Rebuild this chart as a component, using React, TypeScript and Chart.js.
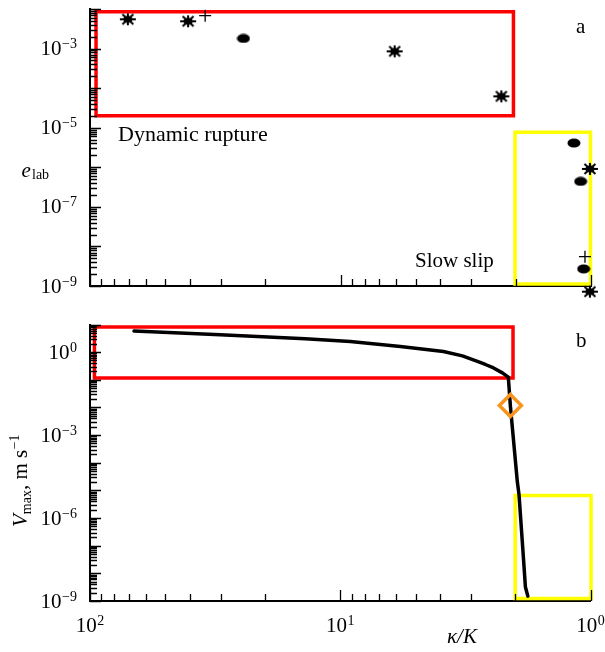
import React, { useEffect, useRef } from 'react';
import { Chart, registerables } from 'chart.js';

Chart.register(...registerables);

const SERIF = "'Liberation Serif', 'Times New Roman', Times, serif";

// ---- data (x = kappa/K) ----
const starKappa = [70.6, 40.6, 6.08, 2.28, 1.01, 1.01];
const starElab = [5.5e-3, 4.9e-3, 8.5e-4, 6.2e-5, 9.1e-7, 7.2e-10];
const plusKappa = [34.7, 1.01, 1.057];
const plusElab = [6.8e-3, 9.1e-7, 5.5e-9];
const dotKappa = [24.4, 1.17, 1.1, 1.07];
const dotElab = [1.8e-3, 4.1e-6, 4.4e-7, 2.7e-9];

const curveKappa = [66.7, 30.2, 13.8, 9.12, 5.75, 3.87, 3.25, 2.83, 2.63, 2.44, 2.25, 2.13, 2.09, 1.96, 1.93, 1.85, 1.82, 1.78];
const curveVmax = [5.77, 4.29, 3.08, 2.41, 1.6, 1.06, 0.731, 0.466, 0.358, 0.268, 0.178, 0.125, 0.0112, 2.0e-5, 6.9e-6, 2.8e-8, 3.2e-9, 1.5e-9];
const diamondKappa = [2.09];
const diamondVmax = [0.0117];

// boxes: [x1, x2], [y1, y2]
const redTopX = [94.6, 2.04];
const redTopY = [2.0e-5, 8.5e-3];
const yellowTopX = [2.01, 1.005];
const yellowTopY = [1.12e-9, 7.7e-6];
const redBotX = [96, 2.04];
const redBotY = [0.116, 8.1];
const yellowBotX = [2.0, 0.995];
const yellowBotY = [1.22e-9, 6.5e-6];

// tick labels (exponents of 10)
const xTickExps = [2, 1, 0];
const topYTickExps = [-9, -7, -5, -3];
const botYTickExps = [-9, -6, -3, 0];

const X_MIN = 1, X_MAX = 100;
const TOP_Y_MIN = 1e-9, TOP_Y_MAX = 1e-2;
const BOT_Y_MIN = 1e-9, BOT_Y_MAX = 10;

const pts = (xs: number[], ys: number[]) => xs.map((x, i) => ({ x, y: ys[i] }));
const rect = (xs: number[], ys: number[]) => [
  { x: xs[0], y: ys[0] },
  { x: xs[1], y: ys[0] },
  { x: xs[1], y: ys[1] },
  { x: xs[0], y: ys[1] },
  { x: xs[0], y: ys[0] },
];

function makeStar(): HTMLCanvasElement {
  const c = document.createElement('canvas');
  c.width = 18; c.height = 14;
  const g = c.getContext('2d')!;
  g.strokeStyle = '#000'; g.fillStyle = '#000'; g.lineWidth = 2;
  const cx = 9, cy = 7;
  g.beginPath();
  g.moveTo(1, cy); g.lineTo(17, cy);
  g.moveTo(cx, 1); g.lineTo(cx, 13);
  g.moveTo(3.5, 2); g.lineTo(14.5, 12);
  g.moveTo(3.5, 12); g.lineTo(14.5, 2);
  g.stroke();
  g.beginPath(); g.ellipse(cx, cy, 4.5, 3.5, 0, 0, Math.PI * 2); g.fill();
  return c;
}
function makeDot(): HTMLCanvasElement {
  const c = document.createElement('canvas');
  c.width = 14; c.height = 10;
  const g = c.getContext('2d')!;
  g.fillStyle = '#000';
  g.beginPath(); g.ellipse(7, 5, 6.5, 4.5, 0, 0, Math.PI * 2); g.fill();
  return c;
}

function drawPow(ctx: CanvasRenderingContext2D, exp: number, x: number, baseline: number, align: 'right' | 'center') {
  const base = '10';
  const e = exp < 0 ? '\u2212' + Math.abs(exp) : String(exp);
  ctx.font = `21px ${SERIF}`;
  const wb = ctx.measureText(base).width;
  ctx.font = `14px ${SERIF}`;
  const we = ctx.measureText(e).width;
  const total = wb + we + 0.5;
  const x0 = align === 'right' ? x - total : x - total / 2;
  ctx.textAlign = 'left';
  ctx.textBaseline = 'alphabetic';
  ctx.font = `21px ${SERIF}`;
  ctx.fillText(base, x0, baseline);
  ctx.font = `14px ${SERIF}`;
  ctx.fillText(e, x0 + wb + 0.5, baseline - 7);
}

function drawAxes(chart: any, yMin: number, yMax: number, yExps: number[], xLabels: boolean) {
  const { ctx, chartArea, scales } = chart;
  const xs = scales.x, ys = scales.y;
  ctx.save();
  ctx.strokeStyle = '#000';
  ctx.lineWidth = 1.3;
  ctx.beginPath();
  for (let e = Math.floor(Math.log10(yMin)); e <= Math.ceil(Math.log10(yMax)); e++) {
    for (let m = 1; m <= 9; m++) {
      const v = m * Math.pow(10, e);
      if (v < yMin * 0.999 || v > yMax * 1.001) continue;
      const py = Math.round(ys.getPixelForValue(v)) + 0.5;
      const len = m === 1 ? 11 : 7;
      ctx.moveTo(chartArea.left, py);
      ctx.lineTo(chartArea.left + len, py);
    }
  }
  for (let e = 0; e <= 2; e++) {
    for (let m = 1; m <= 9; m++) {
      const v = m * Math.pow(10, e);
      if (v < X_MIN * 0.999 || v > X_MAX * 1.001) continue;
      const px = Math.round(xs.getPixelForValue(v)) + 0.5;
      const len = m === 1 ? 11 : 7;
      ctx.moveTo(px, chartArea.bottom);
      ctx.lineTo(px, chartArea.bottom - len);
    }
  }
  ctx.stroke();
  ctx.fillStyle = '#000';
  for (const e of yExps) {
    const py = ys.getPixelForValue(Math.pow(10, e));
    drawPow(ctx, e, chartArea.left - 13, py + 6.5, 'right');
  }
  if (xLabels) {
    for (const e of xTickExps) {
      const px = xs.getPixelForValue(Math.pow(10, e));
      drawPow(ctx, e, px, chartArea.bottom + 31, 'center');
    }
  }
  ctx.restore();
}

function baseScales(yMin: number, yMax: number, xHeight: number) {
  return {
    x: {
      type: 'logarithmic' as const,
      min: X_MIN,
      max: X_MAX,
      reverse: true,
      grid: { display: false, drawTicks: false },
      border: { display: true, color: '#000', width: 2 },
      ticks: { display: false },
      afterFit: (s: any) => { s.height = xHeight; s.paddingLeft = 0; s.paddingRight = 0; },
    },
    y: {
      type: 'logarithmic' as const,
      min: yMin,
      max: yMax,
      grid: { display: false, drawTicks: false },
      border: { display: true, color: '#000', width: 2 },
      ticks: { display: false },
      afterFit: (s: any) => { s.width = 90; s.paddingTop = 0; s.paddingBottom = 0; },
    },
  };
}

function boxDataset(data: any[], color: string) {
  return {
    data, showLine: true, borderColor: color, borderWidth: 3.5, pointRadius: 0,
    fill: false, tension: 0, borderJoinStyle: 'miter' as const, borderCapStyle: 'square' as const, clip: false as any,
  };
}

export default function App() {
  const topRef = useRef<HTMLCanvasElement>(null);
  const botRef = useRef<HTMLCanvasElement>(null);

  useEffect(() => {
    const star = makeStar();
    const dot = makeDot();

    const topPlugin = {
      id: 'topDecor',
      afterDatasetsDraw(chart: any) {
        drawAxes(chart, TOP_Y_MIN, TOP_Y_MAX, topYTickExps, false);
        const ctx = chart.ctx as CanvasRenderingContext2D;
        ctx.save();
        ctx.fillStyle = '#000';
        ctx.textAlign = 'left';
        ctx.textBaseline = 'alphabetic';
        ctx.font = `22px ${SERIF}`;
        ctx.fillText('Dynamic rupture', 118, 140.5);
        ctx.font = `21px ${SERIF}`;
        ctx.fillText('Slow slip', 415, 266.5);
        ctx.fillText('a', 576, 33);
        ctx.font = `italic 21px ${SERIF}`;
        ctx.fillText('e', 21.5, 176.5);
        ctx.font = `14px ${SERIF}`;
        ctx.fillText('lab', 32, 178.5);
        ctx.restore();
      },
    };

    const botPlugin = {
      id: 'botDecor',
      afterDatasetsDraw(chart: any) {
        drawAxes(chart, BOT_Y_MIN, BOT_Y_MAX, botYTickExps, true);
        const ctx = chart.ctx as CanvasRenderingContext2D;
        ctx.save();
        ctx.fillStyle = '#000';
        ctx.textAlign = 'left';
        ctx.textBaseline = 'alphabetic';
        ctx.font = `21px ${SERIF}`;
        ctx.fillText('b', 576, 37);
        ctx.font = `italic 21px ${SERIF}`;
        ctx.fillText('\u03BA/K', 447, 333);
        // rotated y title
        ctx.translate(27, 217);
        ctx.rotate(-Math.PI / 2);
        let x = 0;
        ctx.font = `italic 21px ${SERIF}`;
        ctx.fillText('V', x, 0);
        x += ctx.measureText('V').width;
        ctx.font = `14px ${SERIF}`;
        ctx.fillText('max', x, 4);
        x += ctx.measureText('max').width;
        ctx.font = `21px ${SERIF}`;
        ctx.fillText(', m s', x, 0);
        x += ctx.measureText(', m s').width + 0.5;
        ctx.font = `14px ${SERIF}`;
        ctx.fillText('\u22121', x, -8);
        ctx.restore();
      },
    };

    const c1 = new Chart(topRef.current!, {
      type: 'scatter',
      data: {
        datasets: [
          { data: pts(starKappa, starElab), pointStyle: star as any, radius: 8, clip: false as any },
          { data: pts(plusKappa, plusElab), pointStyle: 'cross', radius: 6, borderColor: '#000', borderWidth: 1.3, clip: false as any },
          { data: pts(dotKappa, dotElab), pointStyle: dot as any, radius: 8, clip: false as any },
          boxDataset(rect(yellowTopX, yellowTopY), '#ffff00'),
          boxDataset(rect(redTopX, redTopY), '#ff0000'),
        ] as any,
      },
      options: {
        animation: false,
        responsive: false,
        events: [],
        layout: { padding: { left: 0, right: 14, top: 8, bottom: 24 } },
        plugins: { legend: { display: false }, tooltip: { enabled: false } },
        scales: baseScales(TOP_Y_MIN, TOP_Y_MAX, 0) as any,
      },
      plugins: [topPlugin],
    });

    const c2 = new Chart(botRef.current!, {
      type: 'scatter',
      data: {
        datasets: [
          {
            data: pts(diamondKappa, diamondVmax), pointStyle: 'rectRot', radius: 11, borderWidth: 3.5,
            borderColor: '#f7941d', backgroundColor: 'rgba(0,0,0,0)', clip: false as any,
          },
          {
            data: pts(curveKappa, curveVmax), showLine: true, borderColor: '#000', borderWidth: 3.5,
            pointRadius: 0, tension: 0, fill: false, clip: false as any,
            borderJoinStyle: 'round' as const, borderCapStyle: 'round' as const,
          },
          boxDataset(rect(yellowBotX, yellowBotY), '#ffff00'),
          boxDataset(rect(redBotX, redBotY), '#ff0000'),
        ] as any,
      },
      options: {
        animation: false,
        responsive: false,
        events: [],
        layout: { padding: { left: 0, right: 14, top: 11, bottom: 0 } },
        plugins: { legend: { display: false }, tooltip: { enabled: false } },
        scales: baseScales(BOT_Y_MIN, BOT_Y_MAX, 51) as any,
      },
      plugins: [botPlugin],
    });

    return () => { c1.destroy(); c2.destroy(); };
  }, []);

  return (
    <div style={{ position: 'absolute', left: 0, top: 0, width: 605, height: 652, background: '#fff', overflow: 'hidden' }}>
      <canvas ref={topRef} width={605} height={310} style={{ position: 'absolute', left: 0, top: 0, display: 'block' }} />
      <canvas ref={botRef} width={605} height={342} style={{ position: 'absolute', left: 0, top: 310, display: 'block' }} />
    </div>
  );
}
